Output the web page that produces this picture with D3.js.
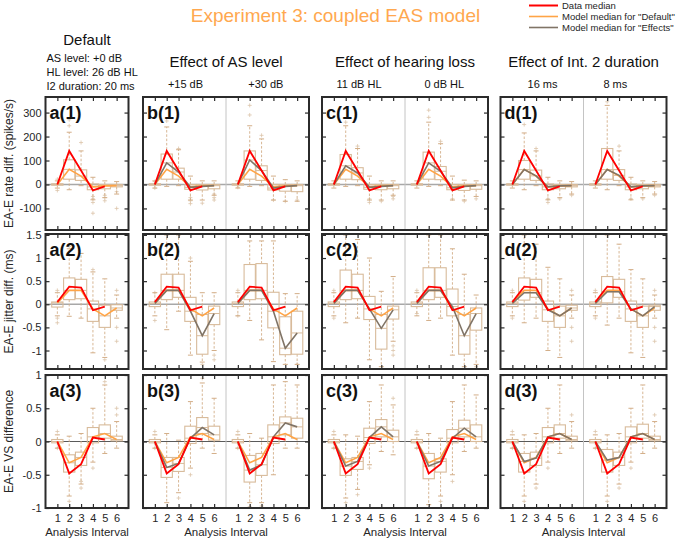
<!DOCTYPE html>
<html><head><meta charset="utf-8">
<script src="https://cdn.jsdelivr.net/npm/d3@7"></script>
<style>body{margin:0;background:#fff;overflow:hidden} svg{display:block}</style>
</head><body><svg width="676" height="540"></svg>
<script>
// ---------------- DATA ----------------
const intervals = [1, 2, 3, 4, 5, 6];
const figureTitle = "Experiment 3: coupled EAS model";
const columnTitles = ["Default", "Effect of AS level", "Effect of hearing loss", "Effect of Int. 2 duration"];
const defaultSettings = ["AS level: +0 dB", "HL level: 26 dB HL", "I2 duration: 20 ms"];
const conditionLabels = ["+15 dB", "+30 dB", "11 dB HL", "0 dB HL", "16 ms", "8 ms"];
const rowLabels = ["EA-E rate diff. (spikes/s)", "EA-E jitter diff. (ms)", "EA-E VS difference"];
const panelLetters = ["a", "b", "c", "d"];
const legendLabels = ["Data median", 'Model median for "Default"', 'Model median for "Effects"'];
const xAxisLabel = "Analysis Interval";
const rateTicks = [-100, 0, 100, 200, 300];
const jitterTicks = [-1, -0.5, 0, 0.5, 1, 1.5];
const vsTicks = [-1, -0.5, 0, 0.5, 1];

// Row 1: rate difference (spikes/s). Box tuples: [lower whisker, q1, q3, upper whisker]
const rateData = [0, 140, 58, -25, -8];
const rateDefault = [0, 63, 35, -10, -6, -5];
const rateBoxDefault = [[-15,-3,3,15],[-22,22,103,218],[-5,17,61,140],[-64,-22,2,30],[-55,-18,0,15],[-40,-10,0,12]];
const rateEffAS15 = [0, 90, 52, -12, -8, -5];
const rateBoxAS15 = [[-15,-3,3,15],[-8,22,127,240],[-5,22,68,145],[-65,-20,0,35],[-65,-23,0,15],[-45,-18,0,15]];
const rateEffAS30 = [0, 102, 58, -15, -8, -5];
const rateBoxAS30 = [[-15,-3,3,15],[-8,22,140,245],[-5,17,78,190],[-65,-23,0,35],[-70,-28,0,20],[-70,-30,0,15]];
const rateEffHL11 = [0, 78, 48, -12, -8, -5];
const rateBoxHL11 = [[-15,-3,3,15],[-8,22,125,245],[-5,20,70,150],[-65,-20,0,35],[-65,-22,0,15],[-45,-18,0,15]];
const rateEffHL0 = [0, 90, 55, -14, -8, -5];
const rateBoxHL0 = [[-15,-3,3,15],[-8,22,135,260],[-5,20,75,170],[-65,-22,0,35],[-65,-25,0,18],[-50,-20,0,15]];
const rateEffDur16 = [0, 62, 36, -10, -6, -5];
const rateBoxDur16 = [[-15,-3,3,15],[-22,22,100,215],[-5,17,60,140],[-64,-22,2,30],[-55,-18,0,15],[-40,-10,0,12]];
const rateEffDur8 = [0, 62, 38, -10, -6, -5];
const rateBoxDur8 = [[-15,-3,3,15],[-22,22,150,330],[-5,17,62,140],[-64,-22,2,30],[-55,-18,0,15],[-40,-10,0,12]];
const rateOutDefault = [[1,-25],[1,22],[2,270],[2,245],[3,175],[4,-50],[4,-60],[4,-75],[4,-120],[5,-45],[5,-55],[5,-68],[6,-30],[6,-100]];
const rateOutAS15 = [[1,-15],[1,12],[2,265],[3,150],[4,-55],[4,-68],[4,-80],[5,-78],[6,-40],[6,-55],[6,-65]];
const rateOutAS30 = [[1,-12],[2,330],[2,290],[3,205],[4,-65],[5,-70],[6,-65]];
const rateOutHL11 = [[2,260],[3,160],[4,-60],[4,-75],[5,-70],[6,-50],[6,-60]];
const rateOutHL0 = [[2,310],[2,280],[3,180],[4,-60],[5,-70],[6,-60]];
const rateOutDur16 = [[2,250],[3,150],[4,-60],[4,-75],[5,-60],[6,-45]];
const rateOutDur8 = [[2,345],[3,160],[4,-60],[5,-60],[6,-45]];

// Row 2: jitter difference (ms)
const jitData = [0.05, 0.38, 0.36, -0.13, -0.05];
const jitDefault = [0.03, 0.3, 0.3, -0.1, -0.25, -0.08];
const jitBoxDefault = [[-0.25,-0.06,0.05,0.25],[-0.26,0.1,0.57,1.2],[-0.3,0.12,0.54,1.1],[-1.05,-0.37,0.07,0.7],[-1.15,-0.5,-0.02,0.55],[-0.3,-0.13,-0.01,0.2]];
const jitEffAS15 = [0.02, 0.3, 0.3, -0.15, -0.68, -0.2];
const jitBoxAS15 = [[-0.25,-0.05,0.05,0.25],[-0.55,0.1,0.65,1.5],[-0.15,0.15,0.65,1.5],[-1.1,-0.37,0.15,0.93],[-1.25,-1.08,-0.22,0.25],[-1.0,-0.44,-0.04,0.25]];
const jitEffAS30 = [0.02, 0.3, 0.3, -0.15, -0.95, -0.62];
const jitBoxAS30 = [[-0.25,-0.05,0.05,0.25],[-0.35,0.1,0.86,1.37],[-0.77,0.12,0.88,1.37],[-1.24,-0.51,0.26,1.37],[-1.3,-1.09,-0.27,0.23],[-1.3,-1.08,-0.15,0.23]];
const jitEffHL11 = [0.02, 0.3, 0.3, -0.1, -0.52, -0.12];
const jitBoxHL11 = [[-0.25,-0.05,0.05,0.25],[-0.4,0.1,0.74,1.5],[-0.3,0.12,0.65,1.4],[-1.2,-0.33,0.17,1.0],[-1.35,-0.97,-0.22,0.28],[-0.8,-0.32,-0.04,0.6]];
const jitEffHL0 = [0.02, 0.3, 0.3, -0.05, -0.68, -0.2];
const jitBoxHL0 = [[-0.25,-0.05,0.05,0.25],[-0.35,0.1,0.79,1.5],[-0.3,0.15,0.79,1.5],[-1.1,-0.25,0.33,1.2],[-1.35,-1.08,-0.22,0.65],[-1.3,-0.56,-0.08,0.2]];
const jitEffDur16 = [0.02, 0.25, 0.25, -0.12, -0.25, -0.08];
const jitBoxDur16 = [[-0.25,-0.05,0.05,0.25],[-0.4,0.09,0.57,1.5],[-0.3,0.15,0.54,1.3],[-1.0,-0.37,0.07,0.8],[-1.15,-0.5,-0.04,0.55],[-0.3,-0.13,-0.02,0.2]];
const jitEffDur8 = [0.02, 0.27, 0.27, -0.1, -0.25, -0.05];
const jitBoxDur8 = [[-0.25,-0.05,0.05,0.25],[-0.45,0.03,0.6,1.5],[-0.3,0.15,0.54,1.3],[-1.05,-0.37,0.07,0.75],[-1.15,-0.5,-0.04,0.55],[-0.3,-0.13,-0.02,0.2]];
const jitOutDefault = [[1,0.3],[1,-0.3],[1,-0.4],[2,1.25],[4,0.75],[5,-1.2],[6,0.3],[6,-0.5],[6,-0.8]];
const jitOutAS15 = [[1,0.25],[1,-0.35],[4,1.0],[5,-1.3],[6,-1.1],[6,-1.2]];
const jitOutAS30 = [[1,0.3],[1,-0.25],[6,-1.3]];
const jitOutHL11 = [[1,0.3],[1,-0.3],[6,-0.9],[6,-1.0],[6,-1.1]];
const jitOutHL0 = [[1,0.3],[1,-0.2],[6,-1.35]];
const jitOutDur16 = [[1,0.3],[1,-0.3],[6,0.3],[6,-0.5],[6,-0.8]];
const jitOutDur8 = [[1,0.3],[1,-0.3],[6,0.3],[6,-0.5],[6,-0.8]];

// Row 3: vector strength difference
const vsData = [0, -0.48, -0.34, 0.06, 0.03];
const vsDefault = [0, -0.32, -0.24, 0.07, 0.12, 0.03];
const vsBoxDefault = [[-0.1,-0.02,0.03,0.1],[-0.82,-0.46,-0.2,0.08],[-0.64,-0.36,-0.16,0.12],[-0.31,-0.02,0.21,0.5],[-0.18,0.05,0.25,0.85],[-0.1,0.01,0.08,0.3]];
const vsEffAS15 = [0, -0.39, -0.33, 0.05, 0.21, 0.1];
const vsBoxAS15 = [[-0.1,-0.02,0.03,0.1],[-0.92,-0.54,-0.24,0.12],[-0.77,-0.45,-0.24,0.02],[-0.4,-0.03,0.23,0.6],[-0.1,0.12,0.36,0.88],[-0.18,0.02,0.23,0.65]];
const vsEffAS30 = [0, -0.43, -0.35, 0.07, 0.28, 0.22];
const vsBoxAS30 = [[-0.1,-0.02,0.03,0.1],[-0.92,-0.61,-0.21,0.12],[-0.92,-0.51,-0.18,0.05],[-0.5,-0.03,0.25,0.85],[-0.1,0.1,0.37,0.9],[-0.1,0.05,0.35,0.85]];
const vsEffHL11 = [0, -0.37, -0.3, 0.06, 0.22, 0.07];
const vsBoxHL11 = [[-0.1,-0.02,0.03,0.1],[-0.85,-0.51,-0.26,0.1],[-0.72,-0.42,-0.24,0.08],[-0.35,-0.03,0.2,0.6],[-0.15,0.07,0.33,0.85],[-0.2,0,0.17,0.55]];
const vsEffHL0 = [0, -0.37, -0.3, 0.05, 0.2, 0.07];
const vsBoxHL0 = [[-0.1,-0.02,0.03,0.1],[-0.95,-0.56,-0.18,0.12],[-0.82,-0.46,-0.26,0.05],[-0.5,-0.02,0.18,0.6],[-0.15,0.07,0.32,0.85],[-0.1,0,0.25,0.7]];
const vsEffDur16 = [0, -0.3, -0.25, 0.07, 0.12, 0.03];
const vsBoxDur16 = [[-0.1,-0.02,0.03,0.1],[-0.82,-0.46,-0.18,0.1],[-0.64,-0.36,-0.16,0.12],[-0.31,-0.02,0.21,0.5],[-0.18,0.05,0.25,0.85],[-0.1,0.01,0.08,0.3]];
const vsEffDur8 = [0, -0.28, -0.24, 0.07, 0.12, 0.03];
const vsBoxDur8 = [[-0.1,-0.02,0.03,0.1],[-0.82,-0.46,-0.12,0.1],[-0.64,-0.36,-0.16,0.12],[-0.31,-0.02,0.22,0.5],[-0.18,0.05,0.26,0.85],[-0.1,0.01,0.08,0.3]];
const vsOutDefault = [[1,0.15],[1,-0.1],[2,-0.9],[3,-0.7],[3,-0.6],[4,-0.4],[5,0.9],[6,0.4],[6,0.5]];
const vsOutAS15 = [[1,0.15],[1,-0.1],[3,-0.85],[4,-0.5],[5,0.95]];
const vsOutAS30 = [[1,0.15],[1,-0.1],[2,-0.98],[3,-0.97]];
const vsOutHL11 = [[1,0.15],[1,-0.1],[2,-0.92],[3,-0.8],[4,-0.4],[6,0.65]];
const vsOutHL0 = [[1,0.15],[1,-0.1],[2,-1.0],[3,-0.9],[4,-0.6]];
const vsOutDur16 = [[1,0.15],[1,-0.1],[2,-0.9],[3,-0.7],[4,-0.4],[6,0.4]];
const vsOutDur8 = [[1,0.15],[1,-0.1],[2,-0.9],[3,-0.7],[4,-0.4],[6,0.4]];

// ---------------- LAYOUT / STYLE ----------------
const FONT = '"Liberation Sans", Arial, Helvetica, sans-serif';
const C = { box: "#d8bb9b", whisk: "#d3ae88", out: "#dcc4aa", red: "#ff0000", orange: "#ffa446", gray: "#807466", title: "#ffa84f", ink: "#262626" };
const HALF_W = 83;
const colLeft = [45.5, 143, 322, 500.5];
const rowTop = [97, 234, 375], rowBottom = [230, 369, 508];
const yDomains = [[-190, 365], [-1.4, 1.52], [-1, 1]];
const condLabelX = [185.5, 265.8, 359, 444.3, 542.5, 615.3];

const rows = [
  { ticks: rateTicks, data: rateData, def: rateDefault, halves: [
    { box: rateBoxDefault, med: rateDefault, out: rateOutDefault, eff: null },
    { box: rateBoxAS15, med: rateEffAS15, out: rateOutAS15, eff: rateEffAS15 },
    { box: rateBoxAS30, med: rateEffAS30, out: rateOutAS30, eff: rateEffAS30 },
    { box: rateBoxHL11, med: rateEffHL11, out: rateOutHL11, eff: rateEffHL11 },
    { box: rateBoxHL0, med: rateEffHL0, out: rateOutHL0, eff: rateEffHL0 },
    { box: rateBoxDur16, med: rateEffDur16, out: rateOutDur16, eff: rateEffDur16 },
    { box: rateBoxDur8, med: rateEffDur8, out: rateOutDur8, eff: rateEffDur8 }] },
  { ticks: jitterTicks, data: jitData, def: jitDefault, halves: [
    { box: jitBoxDefault, med: jitDefault, out: jitOutDefault, eff: null },
    { box: jitBoxAS15, med: jitEffAS15, out: jitOutAS15, eff: jitEffAS15 },
    { box: jitBoxAS30, med: jitEffAS30, out: jitOutAS30, eff: jitEffAS30 },
    { box: jitBoxHL11, med: jitEffHL11, out: jitOutHL11, eff: jitEffHL11 },
    { box: jitBoxHL0, med: jitEffHL0, out: jitOutHL0, eff: jitEffHL0 },
    { box: jitBoxDur16, med: jitEffDur16, out: jitOutDur16, eff: jitEffDur16 },
    { box: jitBoxDur8, med: jitEffDur8, out: jitOutDur8, eff: jitEffDur8 }] },
  { ticks: vsTicks, data: vsData, def: vsDefault, halves: [
    { box: vsBoxDefault, med: vsDefault, out: vsOutDefault, eff: null },
    { box: vsBoxAS15, med: vsEffAS15, out: vsOutAS15, eff: vsEffAS15 },
    { box: vsBoxAS30, med: vsEffAS30, out: vsOutAS30, eff: vsEffAS30 },
    { box: vsBoxHL11, med: vsEffHL11, out: vsOutHL11, eff: vsEffHL11 },
    { box: vsBoxHL0, med: vsEffHL0, out: vsOutHL0, eff: vsEffHL0 },
    { box: vsBoxDur16, med: vsEffDur16, out: vsOutDur16, eff: vsEffDur16 },
    { box: vsBoxDur8, med: vsEffDur8, out: vsOutDur8, eff: vsEffDur8 }] }
];

const svg = d3.select("svg").style("font-family", FONT);
const defs = svg.append("defs");

// Title and legend
svg.append("text").attr("x", 335.5).attr("y", 22).attr("text-anchor", "middle")
  .attr("font-size", 19).attr("fill", C.title).text(figureTitle);
const legendColors = [C.red, C.orange, C.gray];
legendLabels.forEach((t, i) => {
  const ly = 5.5 + i * 11;
  svg.append("line").attr("x1", 529).attr("x2", 558).attr("y1", ly).attr("y2", ly)
    .attr("stroke", legendColors[i]).attr("stroke-width", i === 0 ? 2 : 1.6);
  svg.append("text").attr("x", 562).attr("y", ly).attr("dy", "0.35em")
    .attr("font-size", 9.5).attr("fill", C.ink).text(t);
});

// Column titles
const colCenter = c => colLeft[c] + (c === 0 ? HALF_W : 2 * HALF_W) / 2;
svg.append("text").attr("x", 87).attr("y", 45).attr("text-anchor", "middle")
  .attr("font-size", 15).attr("fill", "#111").text(columnTitles[0]);
defaultSettings.forEach((t, i) => svg.append("text").attr("x", 46.5).attr("y", 61.5 + i * 14)
  .attr("font-size", 11).attr("fill", "#111").text(t));
for (let c = 1; c < 4; c++) {
  svg.append("text").attr("x", colCenter(c)).attr("y", 67).attr("text-anchor", "middle")
    .attr("font-size", 15).attr("fill", "#111").text(columnTitles[c]);
}
conditionLabels.forEach((t, i) => svg.append("text").attr("x", condLabelX[i]).attr("y", 88)
  .attr("text-anchor", "middle").attr("font-size", 11).attr("fill", "#111").text(t));

// Row labels
rowLabels.forEach((t, r) => {
  svg.append("text").attr("transform", `translate(13.3,${(rowTop[r] + rowBottom[r]) / 2}) rotate(-90)`)
    .attr("text-anchor", "middle").attr("font-size", 12).attr("fill", C.ink).text(t);
});

// X axis labels
for (let c = 0; c < 4; c++) {
  svg.append("text").attr("x", colCenter(c)).attr("y", 536).attr("text-anchor", "middle")
    .attr("font-size", 11.5).attr("fill", C.ink).text(xAxisLabel);
}

const plusPath = (cx, cy, s) => `M${cx - s},${cy}H${cx + s}M${cx},${cy - s}V${cy + s}`;

rows.forEach((row, r) => {
  const y = d3.scaleLinear().domain(yDomains[r]).range([rowBottom[r], rowTop[r]]);
  for (let c = 0; c < 4; c++) {
    const nH = c === 0 ? 1 : 2;
    const x0 = colLeft[c], x1 = x0 + nH * HALF_W;
    const g = svg.append("g");
    const clipId = `clip-${r}-${c}`;
    defs.append("clipPath").attr("id", clipId).append("rect")
      .attr("x", x0).attr("y", rowTop[r]).attr("width", x1 - x0).attr("height", rowBottom[r] - rowTop[r]);
    const inner = g.append("g").attr("clip-path", `url(#${clipId})`);

    // zero line and divider
    inner.append("line").attr("x1", x0).attr("x2", x1).attr("y1", y(0)).attr("y2", y(0))
      .attr("stroke", r === 2 ? "#5a5a5a" : "#a8a8a8").attr("stroke-width", r === 2 ? 1 : 1.6);
    if (nH === 2) {
      inner.append("line").attr("x1", x0 + HALF_W).attr("x2", x0 + HALF_W)
        .attr("y1", rowTop[r]).attr("y2", rowBottom[r]).attr("stroke", "#c4c4c4").attr("stroke-width", 1);
    }

    for (let h = 0; h < nH; h++) {
      const spec = row.halves[c === 0 ? 0 : 2 * c - 1 + h];
      const x = d3.scaleLinear().domain([0, 7]).range([x0 + h * HALF_W, x0 + (h + 1) * HALF_W]);
      const bw = 0.95;
      // outliers
      inner.append("g").selectAll("path").data(spec.out).join("path")
        .attr("d", d => plusPath(x(d[0]), y(d[1]), 2))
        .attr("stroke", C.out).attr("stroke-width", 0.8).attr("fill", "none");
      intervals.forEach((k, i) => {
        const [wlo, q1, q3, whi] = spec.box[i];
        const xc = x(k);
        const bg = inner.append("g").attr("fill", "none");
        bg.append("line").attr("x1", xc).attr("x2", xc).attr("y1", y(q3)).attr("y2", y(whi))
          .attr("stroke", C.whisk).attr("stroke-dasharray", "2.5,1.8").attr("stroke-width", 0.9);
        bg.append("line").attr("x1", xc).attr("x2", xc).attr("y1", y(q1)).attr("y2", y(wlo))
          .attr("stroke", C.whisk).attr("stroke-dasharray", "2.5,1.8").attr("stroke-width", 0.9);
        [wlo, whi].forEach(v => bg.append("line").attr("x1", xc - 2.5).attr("x2", xc + 2.5)
          .attr("y1", y(v)).attr("y2", y(v)).attr("stroke", C.whisk).attr("stroke-width", 1));
        bg.append("rect").attr("x", x(k - bw / 2)).attr("y", y(q3))
          .attr("width", x(k + bw / 2) - x(k - bw / 2)).attr("height", Math.max(0.5, y(q1) - y(q3)))
          .attr("stroke", C.box).attr("stroke-width", 1.1);
        bg.append("line").attr("x1", x(k - bw / 2)).attr("x2", x(k + bw / 2))
          .attr("y1", y(spec.med[i])).attr("y2", y(spec.med[i])).attr("stroke", C.box).attr("stroke-width", 1);
      });
      const line = d3.line().x((d, i) => x(intervals[i])).y(d => y(d));
      inner.append("path").datum(row.def).attr("d", line).attr("fill", "none")
        .attr("stroke", C.orange).attr("stroke-width", 1.6);
      if (spec.eff) inner.append("path").datum(spec.eff).attr("d", line).attr("fill", "none")
        .attr("stroke", C.gray).attr("stroke-width", 1.6);
      inner.append("path").datum(row.data).attr("d", line).attr("fill", "none")
        .attr("stroke", C.red).attr("stroke-width", 1.8);

      // top and bottom ticks
      const axT = d3.axisTop(x).tickValues(intervals).tickSize(-4).tickFormat("");
      g.append("g").attr("transform", `translate(0,${rowTop[r]})`).call(axT);
      const axB = d3.axisBottom(x).tickValues(intervals).tickSize(-4).tickPadding(6)
        .tickFormat(r === 2 ? d3.format("d") : "");
      g.append("g").attr("transform", `translate(0,${rowBottom[r]})`).call(axB);
    }
    const axL = d3.axisLeft(y).tickValues(row.ticks).tickSize(-4).tickPadding(4)
      .tickFormat(c === 0 ? (d => String(d)) : "");
    g.append("g").attr("transform", `translate(${x0},0)`).call(axL);
    const axR = d3.axisRight(y).tickValues(row.ticks).tickSize(-4).tickFormat("");
    g.append("g").attr("transform", `translate(${x1},0)`).call(axR);

    g.append("rect").attr("x", x0).attr("y", rowTop[r]).attr("width", x1 - x0)
      .attr("height", rowBottom[r] - rowTop[r]).attr("fill", "none")
      .attr("stroke", "#2b2b2b").attr("stroke-width", 2);
    g.append("text").attr("x", x0 + 4).attr("y", rowTop[r] + 22).attr("font-size", 18)
      .attr("font-weight", "bold").attr("fill", "#111").text(`${panelLetters[c]}(${r + 1})`);
  }
});
svg.selectAll(".domain").remove();
svg.selectAll(".tick line").attr("stroke", "#2b2b2b").attr("stroke-width", 1.2);
svg.selectAll(".tick text").attr("font-size", 11).attr("fill", C.ink).attr("font-family", FONT);
</script></body></html>
